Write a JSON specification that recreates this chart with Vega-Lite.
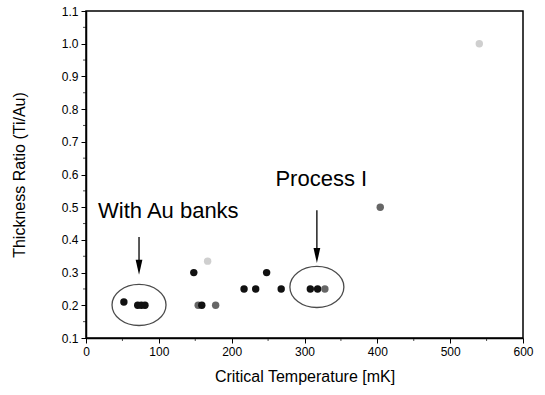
{
  "$schema": "https://vega.github.io/schema/vega-lite/v6.json",
  "width": 437,
  "height": 327,
  "autosize": {"type": "none"},
  "padding": {"left": 86, "top": 11, "right": 22, "bottom": 57},
  "background": "white",
  "config": {
    "font": "Liberation Sans",
    "view": {"stroke": "black", "strokeWidth": 1.5},
    "axis": {"grid": false, "domainColor": "black", "tickColor": "black", "labelColor": "black", "titleColor": "black", "labelFont": "Liberation Sans", "titleFont": "Liberation Sans", "labelFontSize": 12, "titleFontSize": 16, "titleFontWeight": "normal", "tickSize": 5, "domainWidth": 1.5, "labelOverlap": false, "labelFlush": false}
  },
  "datasets": {
    "pts": [
      {"tc": 52, "ratio": 0.21, "tone": "dark"},
      {"tc": 71, "ratio": 0.20, "tone": "dark"},
      {"tc": 76, "ratio": 0.20, "tone": "dark"},
      {"tc": 81, "ratio": 0.20, "tone": "dark"},
      {"tc": 148, "ratio": 0.30, "tone": "dark"},
      {"tc": 154, "ratio": 0.20, "tone": "grey"},
      {"tc": 159, "ratio": 0.20, "tone": "dark"},
      {"tc": 178, "ratio": 0.20, "tone": "grey"},
      {"tc": 167, "ratio": 0.335, "tone": "faint"},
      {"tc": 217, "ratio": 0.25, "tone": "dark"},
      {"tc": 233, "ratio": 0.25, "tone": "dark"},
      {"tc": 248, "ratio": 0.30, "tone": "dark"},
      {"tc": 268, "ratio": 0.25, "tone": "dark"},
      {"tc": 308, "ratio": 0.25, "tone": "dark"},
      {"tc": 318, "ratio": 0.25, "tone": "dark"},
      {"tc": 328, "ratio": 0.25, "tone": "grey"},
      {"tc": 404, "ratio": 0.50, "tone": "grey"},
      {"tc": 540, "ratio": 1.0, "tone": "faint"}
    ],
    "labels": [
      {"tc": 113, "ratio": 0.487, "text": "With Au banks"},
      {"tc": 323, "ratio": 0.585, "text": "Process I"}
    ],
    "arrows": [
      {"tc": 72.8, "top": 0.409, "head": 0.316},
      {"tc": 317, "top": 0.491, "head": 0.352}
    ],
    "rings": [
      {"tc": 72.8, "ratio": 0.201},
      {"tc": 317, "ratio": 0.256}
    ],
    "xminor": [{"v": 50}, {"v": 150}, {"v": 250}, {"v": 350}, {"v": 450}, {"v": 550}],
    "yminor": [{"v": 0.15}, {"v": 0.25}, {"v": 0.35}, {"v": 0.45}, {"v": 0.55}, {"v": 0.65}, {"v": 0.75}, {"v": 0.85}, {"v": 0.95}, {"v": 1.05}]
  },
  "layer": [
    {
      "data": {"name": "pts"},
      "mark": {"type": "point", "shape": "circle", "filled": true, "size": 55, "opacity": 1},
      "encoding": {
        "x": {"field": "tc", "type": "quantitative", "scale": {"domain": [0, 600], "nice": false}, "axis": {"title": "Critical Temperature [mK]", "values": [0, 100, 200, 300, 400, 500, 600], "labelPadding": 3, "titlePadding": 11, "labelOverlap": false}},
        "y": {"field": "ratio", "type": "quantitative", "scale": {"domain": [0.1, 1.1], "nice": false, "zero": false}, "axis": {"title": "Thickness Ratio (Ti/Au)", "values": [0.1, 0.2, 0.3, 0.4, 0.5, 0.6, 0.7, 0.8, 0.9, 1.0, 1.1], "format": ".1f", "labelPadding": 3, "titlePadding": 34, "labelOverlap": false, "tickCount": 11}},
        "color": {"field": "tone", "type": "nominal", "scale": {"domain": ["dark", "grey", "faint"], "range": ["#111111", "#666666", "#cfcfcf"]}, "legend": null}
      }
    },
    {
      "data": {"name": "xminor"},
      "mark": {"type": "tick", "orient": "vertical", "color": "black", "size": 3, "thickness": 1, "yOffset": 1.5},
      "encoding": {"x": {"field": "v", "type": "quantitative"}, "y": {"datum": 0.1, "type": "quantitative"}}
    },
    {
      "data": {"name": "yminor"},
      "mark": {"type": "tick", "orient": "horizontal", "color": "black", "size": 3, "thickness": 1, "xOffset": -1.5},
      "encoding": {"y": {"field": "v", "type": "quantitative"}, "x": {"datum": 0, "type": "quantitative"}}
    },
    {
      "data": {"name": "rings"},
      "mark": {"type": "point", "shape": "M-1,0A1,0.76,0,1,1,1,0A1,0.76,0,1,1,-1,0Z", "size": 2916, "filled": false, "stroke": "black", "strokeWidth": 1.3},
      "encoding": {"x": {"field": "tc", "type": "quantitative"}, "y": {"field": "ratio", "type": "quantitative"}}
    },
    {
      "data": {"name": "arrows"},
      "mark": {"type": "rule", "color": "black", "strokeWidth": 1.3},
      "encoding": {"x": {"field": "tc", "type": "quantitative"}, "y": {"field": "top", "type": "quantitative"}, "y2": {"field": "head"}}
    },
    {
      "data": {"name": "arrows"},
      "mark": {"type": "point", "shape": "M-0.45,-1L0.45,-1L0,1Z", "size": 225, "filled": true, "color": "black", "opacity": 1},
      "encoding": {"x": {"field": "tc", "type": "quantitative"}, "y": {"field": "head", "type": "quantitative"}}
    },
    {
      "data": {"name": "labels"},
      "mark": {"type": "text", "fontSize": 22, "font": "Liberation Sans", "color": "black", "align": "center", "baseline": "middle"},
      "encoding": {"x": {"field": "tc", "type": "quantitative"}, "y": {"field": "ratio", "type": "quantitative"}, "text": {"field": "text"}}
    }
  ]
}
